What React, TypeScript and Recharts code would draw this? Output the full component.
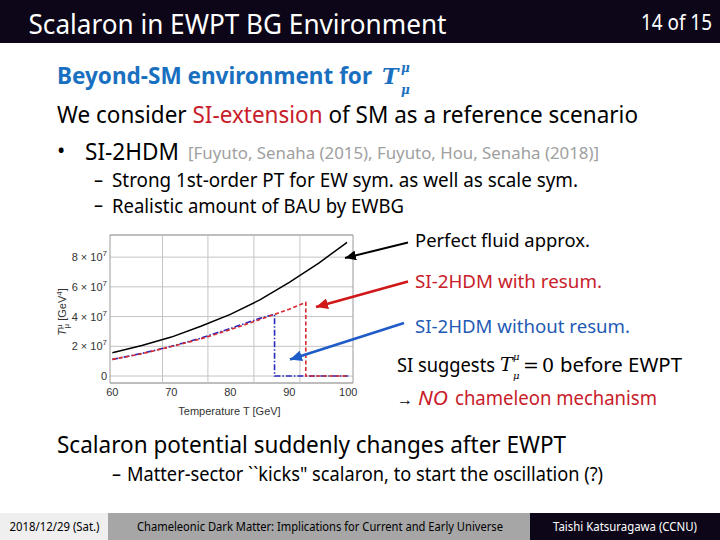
import React from 'react';
import { LineChart, Line, XAxis, YAxis, CartesianGrid, ReferenceLine, ReferenceArea } from 'recharts';

// ---- data (values in units of 1e7 GeV^4) ----
const T_PERFECT = [60, 65, 70, 75, 80, 85, 90, 95, 99.8];
const V_PERFECT = [1.57, 2.05, 2.62, 3.35, 4.15, 5.12, 6.3, 7.6, 9.0];
const T_RESUM = [60, 65, 70, 75, 80, 85, 90, 92.8, 92.8, 100];
const V_RESUM = [1.12, 1.5, 1.98, 2.5, 3.12, 3.8, 4.5, 4.95, 0, 0];
const T_NORESUM = [60, 65, 70, 75, 80, 85, 87.5, 87.5, 100];
const V_NORESUM = [1.12, 1.52, 2.0, 2.55, 3.2, 3.88, 4.15, 0, 0];
const X_TICKS = [60, 70, 80, 90, 100];
const Y_TICKS = [0, 2e7, 4e7, 6e7, 8e7];
const Y_TICK_MANTISSA = ['0', '2', '4', '6', '8'];
const GRID_T = [68.5, 76.2, 84.0, 91.8];
const SCALE = 1e7;

const X_DOMAIN: [number, number] = [59.6, 100.8];
const Y_DOMAIN: [number, number] = [-0.47e7, 9.49e7];

const toRows = (ts: number[], vs: number[]) => ts.map((t, i) => ({ T: t, v: vs[i] * SCALE }));
const perfectData = toRows(T_PERFECT, V_PERFECT);
const resumData = toRows(T_RESUM, V_RESUM);
const noResumData = toRows(T_NORESUM, V_NORESUM);

const SANS = '"Noto Sans", "Open Sans", sans-serif';
const PLOT_FONT = '"Liberation Sans", Arial, sans-serif';
const SERIF = '"DejaVu Serif", "Liberation Serif", serif';
const RED = '#c8202a';
const BLUE = '#1f5bb5';
const HEAD_BLUE = '#1a70c0';
const DARK = '#0c0618';

const Txt = ({ x, y, len, size, fill = '#000', weight = 400, family = SANS, italic = false, children }: any) => (
  <text x={x} y={y} fontSize={size} fill={fill} fontWeight={weight} fontFamily={family}
    fontStyle={italic ? 'italic' : 'normal'} textLength={len} lengthAdjust="spacingAndGlyphs">{children}</text>
);

const XTick = ({ x, y, payload }: any) => (
  <text x={x} y={y} textAnchor="middle" dominantBaseline="central" fontSize={11} fill="#333" fontFamily={PLOT_FONT}>
    {payload.value}
  </text>
);

const YTick = ({ x, y, payload }: any) => {
  const idx = Y_TICKS.indexOf(payload.value);
  const m = Y_TICK_MANTISSA[idx] ?? '';
  if (payload.value === 0) {
    return (
      <text x={x} y={y} textAnchor="end" dominantBaseline="central" fontSize={11} fill="#333" fontFamily={PLOT_FONT}>0</text>
    );
  }
  return (
    <text x={x} y={y + 4} textAnchor="end" fontSize={11} fill="#333" fontFamily={PLOT_FONT}>
      {m} × 10<tspan dy={-5} fontSize={8}>7</tspan>
    </text>
  );
};

const YTitle = (props: any) => {
  const vb = props.viewBox || {};
  const cx = (vb.x ?? 0) + 16;
  const cy = (vb.y ?? 0) + (vb.height ?? 0) / 2 + 3;
  return (
    <text x={cx} y={cy} transform={`rotate(-90 ${cx} ${cy})`} textAnchor="middle" fontSize={11} fill="#333" fontFamily={PLOT_FONT}>
      <tspan fontStyle="italic">T</tspan>
      <tspan dy={-4} fontSize={8}>μ</tspan>
      <tspan dx={-4} dy={7} fontSize={8}>μ</tspan>
      <tspan dy={-3}> [GeV</tspan>
      <tspan dy={-4} fontSize={8}>4</tspan>
      <tspan dy={4}>]</tspan>
    </text>
  );
};

const XTitle = (props: any) => {
  const vb = props.viewBox || {};
  const cx = (vb.x ?? 0) + (vb.width ?? 0) / 2 - 2;
  const cy = (vb.y ?? 0) + 32;
  return (
    <text x={cx} y={cy} textAnchor="middle" fontSize={11} fill="#333" fontFamily={PLOT_FONT}>Temperature T [GeV]</text>
  );
};

const Chart = () => (
  <LineChart width={320} height={200} margin={{ top: 10, right: 17, bottom: 0, left: 0 }}>
    <CartesianGrid vertical={false} stroke="#c4c4c4" strokeWidth={1} />
    {GRID_T.map((t) => (
      <ReferenceLine key={t} x={t} stroke="#c4c4c4" strokeWidth={1} ifOverflow="hidden" />
    ))}
    <ReferenceArea x1={X_DOMAIN[0]} x2={X_DOMAIN[1]} y1={Y_DOMAIN[0]} y2={Y_DOMAIN[1]} fill="none" stroke="#9a9a9a" strokeWidth={1} ifOverflow="visible" />
    <XAxis dataKey="T" type="number" domain={X_DOMAIN} ticks={X_TICKS} allowDataOverflow height={42}
      axisLine={false} tickLine={false} tickSize={0} tickMargin={9} tick={<XTick />} label={XTitle} />
    <YAxis type="number" domain={Y_DOMAIN} ticks={Y_TICKS} allowDataOverflow width={60}
      axisLine={false} tickLine={false} tickSize={0} tickMargin={3} tick={<YTick />} label={YTitle} />
    <Line data={noResumData} dataKey="v" type="linear" stroke="#2a2ac0" strokeWidth={1.6} strokeDasharray="6 2 1.5 2" dot={false} isAnimationActive={false} />
    <Line data={resumData} dataKey="v" type="linear" stroke="#d42a30" strokeWidth={1.6} strokeDasharray="4 2.5" dot={false} isAnimationActive={false} />
    <Line data={perfectData} dataKey="v" type="linear" stroke="#000" strokeWidth={1.5} dot={false} isAnimationActive={false} />
  </LineChart>
);

export default function App() {
  return (
    <div style={{ position: 'fixed', left: 0, top: 0, width: 720, height: 540, background: '#fff', overflow: 'hidden' }}>
      <svg width={720} height={540} style={{ position: 'absolute', left: 0, top: 0 }}>
        {/* header */}
        <rect x={0} y={0} width={720} height={43} fill={DARK} />
        <Txt x={28.5} y={34} len={418} size={27} fill="#fff">Scalaron in EWPT BG Environment</Txt>
        <Txt x={641} y={30} len={71} size={21} fill="#fff">14 of 15</Txt>

        {/* heading */}
        <Txt x={57} y={84} len={315} size={23} fill={HEAD_BLUE} weight={700}>Beyond-SM environment for</Txt>
        <text x={382} y={84} fontSize={22} fill={HEAD_BLUE} fontWeight={700} fontStyle="italic" fontFamily={SERIF}>T</text>
        <text x={401} y={72} fontSize={12} fill={HEAD_BLUE} fontWeight={700} fontStyle="italic" fontFamily={SERIF}>μ</text>
        <text x={401} y={94} fontSize={12} fill={HEAD_BLUE} fontWeight={700} fontStyle="italic" fontFamily={SERIF}>μ</text>

        <Txt x={57} y={123} len={581} size={24}>
          We consider <tspan fill={RED}>SI-extension</tspan> of SM as a reference scenario
        </Txt>

        <text x={57} y={158} fontSize={22} fontFamily={SANS} fill="#000">•</text>
        <Txt x={85} y={159.5} len={94} size={24}>SI-2HDM</Txt>
        <Txt x={188} y={159} len={411} size={16} fill="#a0a0a0">[Fuyuto, Senaha (2015), Fuyuto, Hou, Senaha (2018)]</Txt>

        <Txt x={94} y={186.5} len={9} size={19}>–</Txt>
        <Txt x={112} y={187} len={466} size={20}>Strong 1st-order PT for EW sym. as well as scale sym.</Txt>
        <Txt x={94} y={212} len={9} size={19}>–</Txt>
        <Txt x={112} y={212.5} len={292} size={20}>Realistic amount of BAU by EWBG</Txt>

        {/* annotations */}
        <Txt x={415} y={246.5} len={175} size={18}>Perfect fluid approx.</Txt>
        <Txt x={415} y={288} len={187} size={18} fill={RED}>SI-2HDM with resum.</Txt>
        <Txt x={415} y={332.5} len={215} size={18} fill={BLUE}>SI-2HDM without resum.</Txt>

        <Txt x={397} y={372} len={98} size={19}>SI suggests</Txt>
        <text x={500} y={371} fontSize={19} fontStyle="italic" fontFamily={SERIF} fill="#000">T</text>
        <text x={513} y={360} fontSize={10} fontStyle="italic" fontFamily={SERIF} fill="#000">μ</text>
        <text x={513} y={379} fontSize={10} fontStyle="italic" fontFamily={SERIF} fill="#000">μ</text>
        <text x={523} y={372} fontSize={19} fontFamily={SERIF} fill="#000">=</text>
        <text x={542} y={372} fontSize={19} fontFamily={SERIF} fill="#000">0</text>
        <Txt x={560} y={372} len={122} size={19}>before EWPT</Txt>

        <Txt x={397} y={405} len={16} size={16}>→</Txt>
        <Txt x={418} y={405} len={30} size={19} fill={RED} italic>NO</Txt>
        <Txt x={455} y={405} len={202} size={19} fill={RED}>chameleon mechanism</Txt>

        {/* bottom bullets */}
        <Txt x={57} y={453} len={509} size={24}>Scalaron potential suddenly changes after EWPT</Txt>
        <Txt x={112} y={480.5} len={9} size={19}>–</Txt>
        <Txt x={127} y={481} len={476} size={20}>Matter-sector ``kicks" scalaron, to start the oscillation (?)</Txt>

        {/* footer */}
        <rect x={0} y={513} width={108} height={27} fill="#efefef" />
        <rect x={108} y={513} width={422} height={27} fill="#a6a6a6" />
        <rect x={530} y={513} width={190} height={27} fill={DARK} />
        <Txt x={9.5} y={531} len={90} size={13}>2018/12/29 (Sat.)</Txt>
        <Txt x={137} y={531} len={366} size={13}>Chameleonic Dark Matter: Implications for Current and Early Universe</Txt>
        <Txt x={553} y={531} len={144} size={13} fill="#fff">Taishi Katsuragawa (CCNU)</Txt>
      </svg>

      <div style={{ position: 'absolute', left: 50, top: 225, width: 320, height: 200 }}>
        <Chart />
      </div>

      <svg width={720} height={540} style={{ position: 'absolute', left: 0, top: 0, pointerEvents: 'none' }}>
        <defs>
          <marker id="ahK" markerUnits="userSpaceOnUse" markerWidth={12} markerHeight={10} refX={11} refY={5} orient="auto">
            <path d="M0,0 L11,5 L0,10 Z" fill="#000" />
          </marker>
          <marker id="ahR" markerUnits="userSpaceOnUse" markerWidth={13} markerHeight={11} refX={12} refY={5.5} orient="auto">
            <path d="M0,0 L12,5.5 L0,11 Z" fill="#d01818" />
          </marker>
          <marker id="ahB" markerUnits="userSpaceOnUse" markerWidth={13} markerHeight={11} refX={12} refY={5.5} orient="auto">
            <path d="M0,0 L12,5.5 L0,11 Z" fill="#1e5cc8" />
          </marker>
        </defs>
        <line x1={408} y1={242.5} x2={345} y2={258} stroke="#000" strokeWidth={2} markerEnd="url(#ahK)" />
        <line x1={408} y1={281.5} x2={316} y2={307} stroke="#d01818" strokeWidth={2.8} markerEnd="url(#ahR)" />
        <line x1={404} y1={323} x2={290} y2={359.5} stroke="#1e5cc8" strokeWidth={2.8} markerEnd="url(#ahB)" />
      </svg>
    </div>
  );
}
